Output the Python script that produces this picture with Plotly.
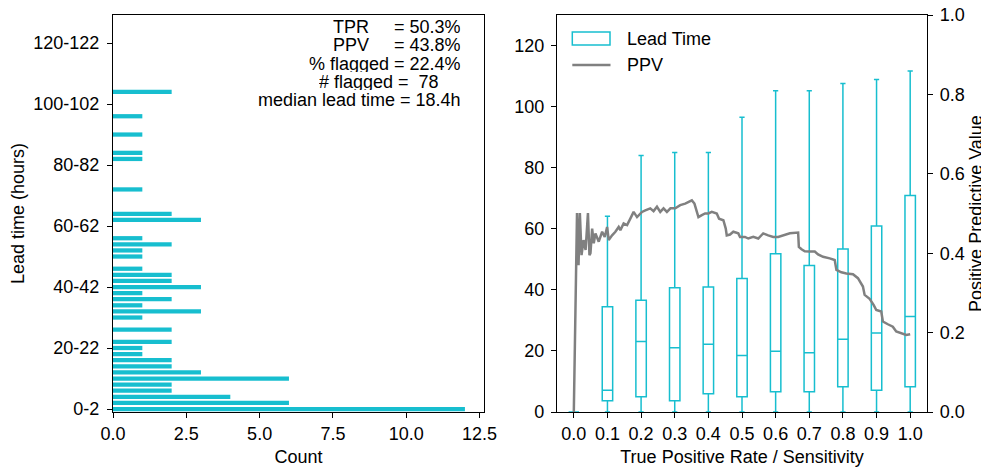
import plotly.graph_objects as go

# ---------------- data ----------------
# left: histogram of lead time, 2-hour bins (bin index 0 = "0-2", 1 = "2-4", ...)
lead_counts = [12, 6, 4, 2, 2, 6, 3, 2, 2, 1,
               1, 2, 0, 2, 0, 1, 3, 1, 2, 1,
               3, 2, 2, 1, 0, 1, 1, 2, 1, 0,
               0, 3, 2, 0, 0, 0, 1, 0, 0, 0,
               0, 1, 1, 0, 0, 1, 0, 0, 1, 0,
               0, 0, 2]
bin_tick_index = [0, 10, 20, 30, 40, 50, 60]
bin_tick_labels = ["0-2", "20-22", "40-42", "60-62", "80-82", "100-102", "120-122"]

stats_lines = ["TPR\u00a0\u00a0\u00a0\u00a0\u00a0= 50.3%",
               "PPV\u00a0\u00a0\u00a0\u00a0\u00a0= 43.8%",
               "% flagged = 22.4%",
               "# flagged =\u00a0\u00a078",
               "median lead time = 18.4h"]

# right: lead time box plots per TPR threshold
tpr_levels = [0.0, 0.1, 0.2, 0.3, 0.4, 0.5, 0.6, 0.7, 0.8, 0.9, 1.0]
lt_lower = [0, 0, 0, 0, 0, 0, 0, 0, 0, 0, 0]
lt_q1 = [0, 3.7, 5.0, 3.7, 6.0, 5.0, 6.6, 6.6, 8.3, 7.1, 8.3]
lt_median = [0, 7.1, 23.1, 21.0, 22.2, 18.5, 19.9, 19.4, 23.8, 25.9, 31.3]
lt_q3 = [0, 34.5, 36.6, 40.7, 40.9, 43.7, 51.8, 48.0, 53.4, 60.9, 70.9]
lt_upper = [0, 64.1, 84.0, 85.0, 85.0, 96.5, 105.2, 105.2, 107.6, 108.9, 111.7]

# PPV curve vs TPR
ppv_tpr = [0.000, 0.0095, 0.014, 0.018, 0.023, 0.029, 0.035, 0.042, 0.0465, 0.0495,
           0.0545, 0.0593, 0.0643, 0.0741, 0.0842, 0.0919, 0.099, 0.1037, 0.1138, 0.1236,
           0.1334, 0.1384, 0.1482, 0.1583, 0.168, 0.1778, 0.1879, 0.2027, 0.2125, 0.2273,
           0.2371, 0.2472, 0.257, 0.2667, 0.2768, 0.2873, 0.3015, 0.3163, 0.3311, 0.3408,
           0.3509, 0.3586, 0.3657, 0.3705, 0.3806, 0.3903, 0.4001, 0.4102, 0.425, 0.4318,
           0.4446, 0.4517, 0.4547, 0.4644, 0.4742, 0.489, 0.4941, 0.5089, 0.5187, 0.5335,
           0.5483, 0.5631, 0.5779, 0.5928, 0.6076, 0.6224, 0.6423, 0.6669, 0.669, 0.677,
           0.6867, 0.7015, 0.7164, 0.7261, 0.741, 0.7608, 0.7756, 0.7807, 0.7955, 0.8103,
           0.8299, 0.8447, 0.8595, 0.8646, 0.8794, 0.8912, 0.8992, 0.914, 0.9188, 0.9336,
           0.9484, 0.9585, 0.9733, 0.9881, 1.0]
ppv_val = [0.000, 0.501, 0.370, 0.501, 0.395, 0.433, 0.408, 0.501, 0.395, 0.400,
           0.462, 0.425, 0.450, 0.429, 0.454, 0.441, 0.466, 0.433, 0.445, 0.454,
           0.466, 0.458, 0.475, 0.471, 0.487, 0.504, 0.491, 0.504, 0.508, 0.513,
           0.506, 0.517, 0.504, 0.513, 0.504, 0.513, 0.513, 0.521, 0.525, 0.529,
           0.533, 0.525, 0.508, 0.491, 0.496, 0.500, 0.500, 0.504, 0.500, 0.487,
           0.483, 0.462, 0.445, 0.447, 0.454, 0.450, 0.441, 0.441, 0.437, 0.441,
           0.437, 0.450, 0.445, 0.441, 0.441, 0.445, 0.450, 0.452, 0.416, 0.410,
           0.405, 0.404, 0.404, 0.397, 0.391, 0.387, 0.383, 0.358, 0.352, 0.349,
           0.347, 0.337, 0.316, 0.295, 0.285, 0.270, 0.257, 0.253, 0.228, 0.221,
           0.215, 0.203, 0.198, 0.194, 0.196]

legend_names = ["Lead Time", "PPV"]

# ---------------- styling ----------------
CYAN = "#17becf"
GRAY = "#808080"
FONT = "Liberation Sans, Arial, Helvetica, sans-serif"
FS = 18

fig = go.Figure()

fig.add_trace(go.Bar(
    x=lead_counts, y=list(range(len(lead_counts))), orientation="h",
    width=0.7, marker=dict(color=CYAN, line=dict(width=0)),
    showlegend=False, xaxis="x", yaxis="y"))

fig.add_trace(go.Box(
    name=legend_names[0], x=tpr_levels, q1=lt_q1, median=lt_median, q3=lt_q3,
    lowerfence=lt_lower, upperfence=lt_upper, width=0.031, whiskerwidth=0.5,
    line=dict(color=CYAN, width=1.5), fillcolor="rgba(0,0,0,0)",
    boxpoints=False, showlegend=False, xaxis="x2", yaxis="y2"))

fig.add_trace(go.Scatter(
    name=legend_names[1], x=ppv_tpr, y=ppv_val, mode="lines",
    line=dict(color=GRAY, width=2.5), showlegend=False, xaxis="x2", yaxis="y3"))

axis_common = dict(showline=True, linecolor="black", linewidth=1.3,
                   ticks="outside", ticklen=5, tickwidth=1.3, tickcolor="black",
                   showgrid=False, zeroline=False, automargin=False,
                   ticklabeloverflow="allow",
                   tickfont=dict(family=FONT, size=FS, color="black"))

# page shows the figure offset by the body margin (8px); plot area spans
# page x 113-484 / 557-927 and page y 15-412
PW, PH = 814.0, 397.0
L0, L1 = 0.0, (484 - 113) / PW
R0, R1 = (557 - 113) / PW, 1.0


def px(xp):
    return (xp - 113) / PW


def py(yp):
    return (412 - yp) / PH


fig.update_layout(
    width=989, height=469,
    margin=dict(l=105, r=70, t=7, b=65, autoexpand=False),
    paper_bgcolor="white", plot_bgcolor="white",
    font=dict(family=FONT, size=FS, color="black"),
    xaxis=dict(domain=[L0, L1], range=[0, 12.65], tick0=0, dtick=2.5, tickformat=".1f",
               mirror=True, anchor="y",
               title=dict(text="Count", standoff=7, font=dict(size=FS)), **axis_common),
    yaxis=dict(domain=[0, 1], range=[-0.49, 64.6], tickvals=bin_tick_index,
               ticktext=bin_tick_labels, mirror=True, anchor="x", ticklabelstandoff=4,
               title=dict(text="Lead time (hours)", standoff=8, font=dict(size=FS)),
               **axis_common),
    xaxis2=dict(domain=[R0, R1], range=[-0.05, 1.05], tickvals=tpr_levels,
                tickformat=".1f", mirror=True, anchor="y2",
                title=dict(text="True Positive Rate / Sensitivity", standoff=7,
                           font=dict(size=FS)), **axis_common),
    yaxis2=dict(domain=[0, 1], range=[0, 130], dtick=20, anchor="x2", ticklabelstandoff=3,
                **axis_common),
    yaxis3=dict(range=[0, 1], dtick=0.2, tickformat=".1f", overlaying="y2", side="right",
                anchor="x2", ticklabelstandoff=3,
                title=dict(text="Positive Predictive Value", standoff=5, font=dict(size=FS)),
                **axis_common),
    showlegend=False,
)

# stats text box (right-aligned lines)
ann_right = [462.7, 462.7, 462.7, 440.7, 462.7]
ann_ypix = [26.6, 44.8, 63.0, 81.1, 99.3]
for txt, xp, yp in zip(stats_lines, ann_right, ann_ypix):
    fig.add_annotation(text=txt, xref="paper", yref="paper", x=px(xp), y=py(yp),
                       xanchor="right", yanchor="middle", showarrow=False, height=17,
                       font=dict(family=FONT, size=FS, color="black"))

# legend (matplotlib style: wide box patch and line handle)
fig.add_shape(type="rect", xref="paper", yref="paper",
              x0=px(572.3), x1=px(610), y0=py(45), y1=py(32),
              line=dict(color=CYAN, width=1.5), fillcolor="rgba(0,0,0,0)")
fig.add_shape(type="line", xref="paper", yref="paper",
              x0=px(572.3), x1=px(610.5), y0=py(65), y1=py(65),
              line=dict(color=GRAY, width=2.5))
for name, yp in zip(legend_names, [39.3, 64.6]):
    fig.add_annotation(text=name, xref="paper", yref="paper", x=px(625), y=py(yp),
                       xanchor="left", yanchor="middle", showarrow=False,
                       font=dict(family=FONT, size=FS, color="black"))

fig.write_html("out.html")
